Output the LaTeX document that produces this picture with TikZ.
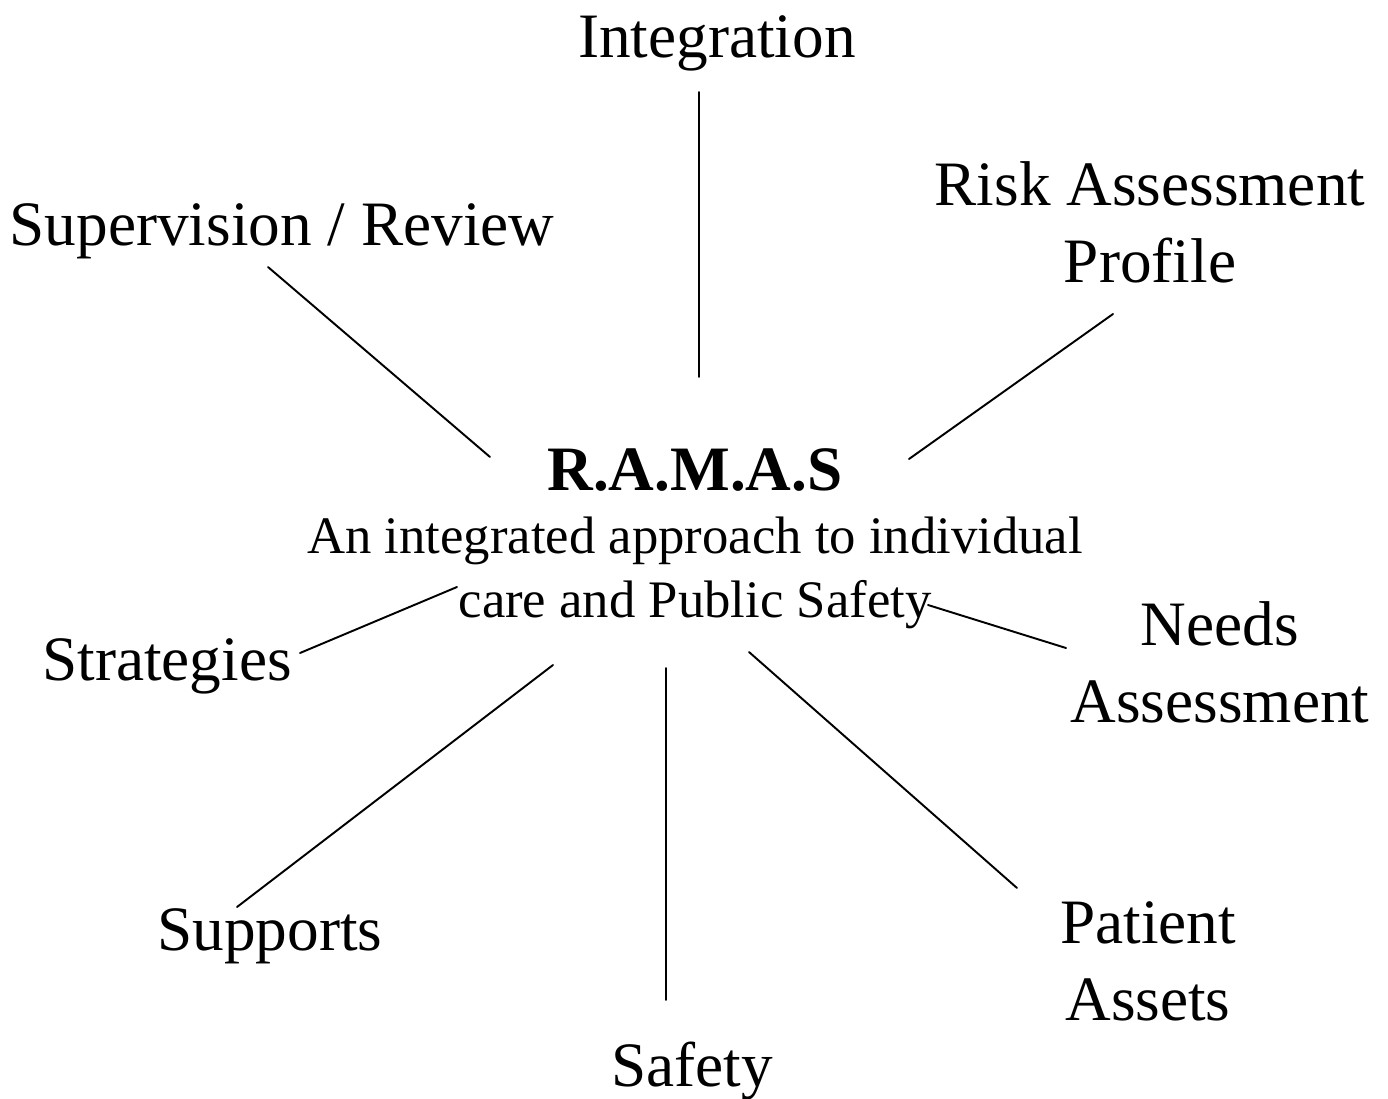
\documentclass[tikz,border=0pt]{standalone}
\usepackage{fontspec}
\setmainfont{Liberation Serif}
\begin{document}
\begin{tikzpicture}[x=0.02cm,y=-0.02cm,line join=round,line cap=round,
	lbl/.style={align=center,inner sep=0pt,anchor=base,font=\fontsize{36}{43.7}\selectfont},
	spoke/.style={line width=1.1pt}]
	\useasboundingbox (0,0) rectangle (1388,1098);
	% centre
	\node[lbl,font=\fontsize{36}{43.7}\selectfont\bfseries] (ramas) at (695,490) {R.A.M.A.S};
	\node[lbl,font=\fontsize{30}{36}\selectfont] (sub) at (695,617) {An integrated approach to individual\\care and Public Safety};
	% outer labels (base = last line)
	\node[lbl] (integ) at (717,58) {Integration};
	\node[lbl] (superv) at (282,245) {Supervision / Review};
	\node[lbl] (risk) at (1150,282) {Risk Assessment\\Profile};
	\node[lbl] (strat) at (167,680) {Strategies};
	\node[lbl] (needs) at (1220,722) {Needs\\Assessment};
	\node[lbl] (supp) at (270,950) {Supports};
	\node[lbl] (safety) at (692,1086) {Safety};
	\node[lbl] (patient) at (1148,1020) {Patient\\Assets};
	% spoke ends
	\path (699,92) coordinate (integ-o) (699,377) coordinate (integ-i)
	(268,267) coordinate (superv-o) (490,457) coordinate (superv-i)
	(1113,314) coordinate (risk-o) (909,459) coordinate (risk-i)
	(300,653) coordinate (strat-o) (457,587) coordinate (strat-i)
	(1066,648) coordinate (needs-o) (928,605) coordinate (needs-i)
	(237,907) coordinate (supp-o) (553,665) coordinate (supp-i)
	(666,1000) coordinate (safety-o) (666,668) coordinate (safety-i)
	(1017,888) coordinate (patient-o) (749,652) coordinate (patient-i);
	\foreach \s in {integ,superv,risk,strat,needs,supp,safety,patient}
	\draw[spoke] (\s-o) -- (\s-i);
\end{tikzpicture}
\end{document}
